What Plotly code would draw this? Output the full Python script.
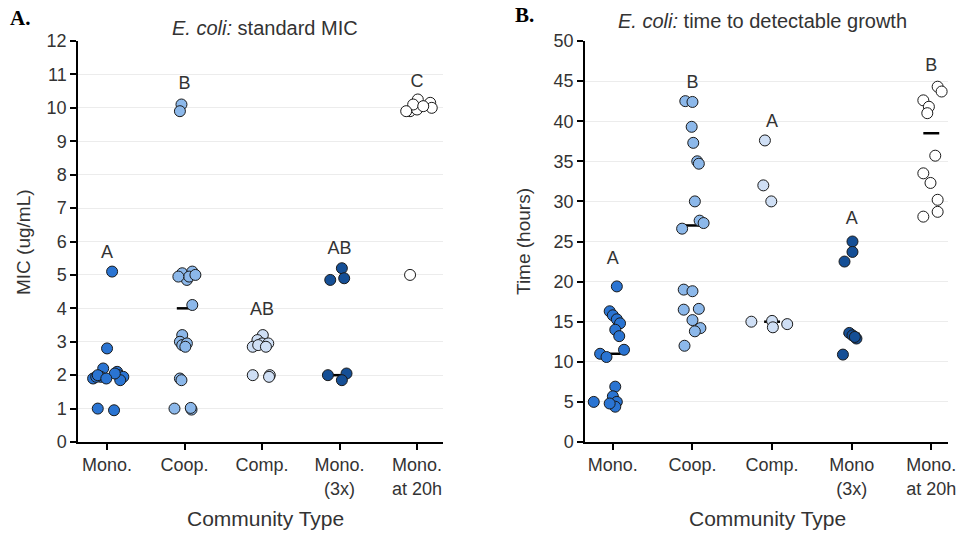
import plotly.graph_objects as go

# ---------------- data ----------------
categories_A = ["Mono.", "Coop.", "Comp.", "Mono.<br>(3x)", "Mono.<br>at 20h"]
categories_B = ["Mono.", "Coop.", "Comp.", "Mono<br>(3x)", "Mono.<br>at 20h"]
group_colors = ["#2a74d2", "#8cb8ea", "#cfdff5", "#154f96", "#ffffff"]

# Panel A: MIC values (ug/mL) and horizontal jitter (category units)
mic_mono = [5.1, 2.8, 2.2, 1.95, 1.9, 1.95, 2.0, 2.1, 2.0, 1.95, 1.85, 2.05, 1.9, 1.0, 0.95]
mic_mono_jit = [0.065, 0.0, -0.05, -0.08, -0.18, -0.14, -0.12, 0.13, 0.15, 0.21, 0.17, 0.10, -0.01, -0.12, 0.09]
mic_coop = [10.1, 9.9, 5.05, 4.85, 5.1, 4.95, 4.95, 5.0, 4.1, 3.2, 3.0, 2.9, 2.95, 2.85, 1.9, 1.85, 1.0, 0.97, 1.02]
mic_coop_jit = [-0.04, -0.06, -0.03, 0.03, 0.10, 0.06, -0.08, 0.14, 0.10, -0.03, -0.06, -0.03, 0.03, 0.01, -0.06, -0.04, -0.13, 0.09, 0.08]
mic_comp = [3.2, 3.05, 2.95, 2.85, 2.95, 2.9, 2.85, 2.0, 2.0, 1.95]
mic_comp_jit = [0.01, -0.06, 0.0, -0.12, 0.08, -0.05, 0.05, -0.12, 0.10, 0.09]
mic_mono3x = [5.2, 4.85, 4.9, 2.0, 2.05, 1.85]
mic_mono3x_jit = [0.03, -0.12, 0.06, -0.15, 0.09, 0.03]
mic_mono20 = [9.9, 9.95, 10.25, 10.1, 10.15, 10.0, 10.05, 9.9, 5.0]
mic_mono20_jit = [-0.09, 0.0, 0.01, -0.05, 0.17, 0.19, 0.08, -0.14, -0.09]
mic_medians = [2.0, 4.0, 2.9, 2.0, 10.0]
mic_letters = ["A", "B", "AB", "AB", "C"]
mic_letter_y = [5.65, 10.7, 3.95, 5.75, 10.75]

# Panel B: time to detectable growth (hours)
t_mono = [19.4, 16.3, 15.8, 15.3, 14.8, 14.0, 13.2, 11.5, 11.0, 10.6, 6.9, 5.7, 5.0, 4.4, 4.8, 5.0]
t_mono_jit = [0.05, -0.04, 0.0, 0.05, 0.09, 0.03, 0.08, 0.14, -0.16, -0.08, 0.03, 0.0, 0.05, 0.03, -0.04, -0.24]
t_coop = [42.5, 42.4, 39.3, 37.3, 35.0, 34.7, 30.0, 27.6, 27.3, 26.6, 19.0, 18.8, 16.5, 16.6, 15.2, 14.2, 13.8, 12.0]
t_coop_jit = [-0.09, 0.0, -0.01, 0.01, 0.06, 0.08, 0.03, 0.09, 0.14, -0.13, -0.11, 0.0, -0.11, 0.08, 0.0, 0.10, 0.03, -0.10]
t_comp = [37.6, 32.0, 30.0, 15.0, 15.1, 14.3, 14.7]
t_comp_jit = [-0.09, -0.11, -0.01, -0.26, 0.0, 0.01, 0.19]
t_mono3x = [25.0, 23.7, 22.5, 13.6, 13.3, 12.9, 13.1, 10.9]
t_mono3x_jit = [0.01, 0.01, -0.09, -0.03, 0.01, 0.06, 0.04, -0.11]
t_mono20 = [44.3, 43.7, 42.6, 41.8, 41.0, 35.7, 33.5, 32.3, 30.2, 28.7, 28.1]
t_mono20_jit = [0.08, 0.13, -0.10, -0.03, -0.05, 0.05, -0.10, -0.01, 0.08, 0.08, -0.10]
t_medians = [11.0, 27.0, 15.0, 13.5, 38.5]
t_letters = ["A", "B", "A", "A", "B"]
t_letter_y = [22.7, 44.7, 39.8, 27.7, 46.8]

mic_groups = [(mic_mono, mic_mono_jit), (mic_coop, mic_coop_jit), (mic_comp, mic_comp_jit),
              (mic_mono3x, mic_mono3x_jit), (mic_mono20, mic_mono20_jit)]
t_groups = [(t_mono, t_mono_jit), (t_coop, t_coop_jit), (t_comp, t_comp_jit),
            (t_mono3x, t_mono3x_jit), (t_mono20, t_mono20_jit)]

FONT = "Liberation Sans, Arial, sans-serif"
TXT = "#333333"

fig = go.Figure()


def add_panel(groups, medians, letters, letter_y, xa, ya):
    # median bars (drawn below points)
    for i, m in enumerate(medians):
        fig.add_trace(go.Scatter(x=[i - 0.1, i + 0.1], y=[m, m], mode="lines",
                                 line=dict(color="black", width=2.5),
                                 xaxis=xa, yaxis=ya, showlegend=False, hoverinfo="skip"))
    for i, (vals, jit) in enumerate(groups):
        fig.add_trace(go.Scatter(
            x=[i + j for j in jit], y=vals, mode="markers",
            marker=dict(size=11, color=group_colors[i], line=dict(color="#1a1a1a", width=1)),
            xaxis=xa, yaxis=ya, showlegend=False))
    fig.add_trace(go.Scatter(
        x=list(range(len(letters))), y=letter_y, mode="text", text=letters,
        textfont=dict(family=FONT, size=18, color=TXT),
        xaxis=xa, yaxis=ya, showlegend=False, hoverinfo="skip"))


add_panel(mic_groups, mic_medians, mic_letters, mic_letter_y, "x", "y")
add_panel(t_groups, t_medians, t_letters, t_letter_y, "x2", "y2")

W = 961
H = 533
axis_common = dict(showline=True, linecolor="black", linewidth=1.5, ticks="outside",
                   ticklen=6, tickcolor="black", tickwidth=1.5, automargin=False,
                   tickfont=dict(family=FONT, size=18, color=TXT), zeroline=False)
ydom = [91 / H, 1 - 41 / H]

fig.update_layout(
    width=961, height=533,
    margin=dict(l=0, r=0, t=0, b=0, autoexpand=False),
    showlegend=False,
    plot_bgcolor="white", paper_bgcolor="white",
    xaxis=dict(domain=[78 / W, 443 / W], range=[-0.375, 4.335], tickmode="array",
               tickvals=list(range(5)), ticktext=categories_A, showgrid=False,
               anchor="y", **axis_common),
    yaxis=dict(domain=ydom, range=[0, 12], tickmode="array", tickvals=list(range(13)),
               showgrid=True, gridcolor="#ececec", gridwidth=1, anchor="x", **axis_common),
    xaxis2=dict(domain=[585 / W, 948 / W], range=[-0.35, 4.21], tickmode="array",
                tickvals=list(range(5)), ticktext=categories_B, showgrid=False,
                anchor="y2", **axis_common),
    yaxis2=dict(domain=ydom, range=[0, 50], tickmode="array",
                tickvals=list(range(0, 51, 5)), showgrid=True, gridcolor="#ececec",
                gridwidth=1, anchor="x2", **axis_common),
)


def pann(xpx, ypx, text, size, family=FONT, color=TXT, angle=0):
    return dict(x=xpx / W, y=1 - ypx / H, xref="paper", yref="paper", yanchor="middle",
                xanchor="center", showarrow=False, text=text, textangle=angle,
                font=dict(family=family, size=size, color=color))


SERIF = "Liberation Serif, Times New Roman, serif"
ann = [
    pann(20, 18, "<b>A.</b>", 21, SERIF, "black"),
    pann(524, 15, "<b>B.</b>", 21, SERIF, "black"),
    pann(265, 28, "<i>E. coli:</i> standard MIC", 20),
    pann(762, 21, "<i>E. coli:</i> time to detectable growth", 20),
    pann(24, 242, "MIC (ug/mL)", 19, angle=-90),
    pann(524, 242, "Time (hours)", 19, angle=-90),
    pann(265, 518, "Community Type", 21),
    pann(767, 518, "Community Type", 21),
]
fig.update_layout(annotations=ann)

fig.write_html("out.html")
